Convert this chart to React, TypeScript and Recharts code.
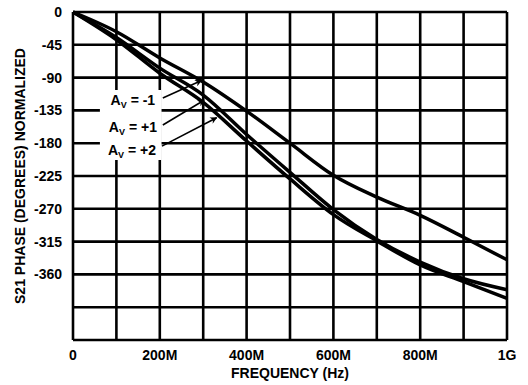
import React from 'react';
import {
  LineChart,
  Line,
  XAxis,
  YAxis,
  CartesianGrid,
  ReferenceArea,
  ReferenceLine,
  ReferenceDot,
} from 'recharts';

// frequency in MHz
const freq = [0, 100, 200, 300, 400, 500, 600, 700, 800, 900, 1000];
// S21 phase, degrees
const avMinus1 = [0, -27, -63, -96, -136, -180, -224, -254, -279, -309, -340];
const avPlus1 = [0, -35, -77, -114, -168, -220, -271, -312, -343, -366, -381];
const avPlus2 = [0, -38, -84, -124, -177, -229, -278, -314, -347, -370, -393];

const xTicks = [0, 100, 200, 300, 400, 500, 600, 700, 800, 900, 1000];
const xTickLabels: Record<number, string> = { 0: '0', 200: '200M', 400: '400M', 600: '600M', 800: '800M', 1000: '1G' };
const yTicks = [0, -45, -90, -135, -180, -225, -270, -315, -360, -405, -450];
const yTickLabels = ['0', '-45', '-90', '-135', '-180', '-225', '-270', '-315', '-360'];

// curve labels: text, text position, arrow from -> to (MHz, degrees)
const gainLabels = ['-1', '+1', '+2'];
const labelPos = [
  { f: 138, deg: -121 },
  { f: 138, deg: -158 },
  { f: 136, deg: -189 },
];
const arrows = [
  { f1: 207, d1: -118, f2: 296, d2: -94 },
  { f1: 207, d1: -155, f2: 302, d2: -121 },
  { f1: 205, d1: -184, f2: 331, d2: -145 },
];

const data = freq.map((f, i) => ({
  f,
  m1: avMinus1[i],
  p1: avPlus1[i],
  p2: avPlus2[i],
}));

const FONT = '"Liberation Sans", Arial, sans-serif';

const YTitle = (props: any) => {
  const { viewBox } = props;
  const cx = viewBox.x - 3;
  const cy = viewBox.y + viewBox.height / 2;
  return (
    <text
      x={cx}
      y={cy}
      transform={`rotate(-90, ${cx}, ${cy})`}
      textAnchor="middle"
      dominantBaseline="central"
      fontFamily={FONT}
      fontWeight="bold"
      fontSize={14}
      fill="#000"
    >
      S21 PHASE (DEGREES) NORMALIZED
    </text>
  );
};

const XTitle = (props: any) => {
  const { viewBox } = props;
  return (
    <text
      x={viewBox.x + viewBox.width / 2}
      y={viewBox.y + 38}
      textAnchor="middle"
      fontFamily={FONT}
      fontWeight="bold"
      fontSize={14}
      fill="#000"
    >
      FREQUENCY (Hz)
    </text>
  );
};

const GainLabel = (props: any) => {
  const { viewBox, gain } = props;
  const x = viewBox.x + viewBox.width / 2;
  const y = viewBox.y + viewBox.height / 2;
  return (
    <text
      x={x}
      y={y + 5}
      textAnchor="middle"
      fontFamily={FONT}
      fontWeight="bold"
      fontSize={14}
      fill="#000"
    >
      A
      <tspan fontSize={9} dy={3}>V</tspan>
      <tspan dy={-3}>{` = ${gain}`}</tspan>
    </text>
  );
};

const Arrow = (props: any) => (
  <line
    x1={props.x1}
    y1={props.y1}
    x2={props.x2}
    y2={props.y2}
    stroke="#000"
    strokeWidth={1.6}
    markerEnd="url(#arrowHead)"
  />
);

export default function App() {
  return (
    <div style={{ position: 'absolute', left: 0, top: 0, background: '#fff' }}>
      <LineChart
        width={528}
        height={385}
        data={data}
        margin={{ top: 12, right: 21, left: 23, bottom: 20 }}
      >
        <defs>
          <marker
            id="arrowHead"
            viewBox="0 0 10 10"
            refX="9"
            refY="5"
            markerWidth="8"
            markerHeight="7"
            markerUnits="userSpaceOnUse"
            orient="auto"
          >
            <path d="M0,0 L10,5 L0,10 L3,5 z" fill="#000" />
          </marker>
        </defs>
        <CartesianGrid stroke="#000" strokeWidth={2.6} />
        <XAxis
          dataKey="f"
          type="number"
          domain={[0, 1000]}
          ticks={xTicks}
          interval={0}
          axisLine={false}
          tickLine={false}
          height={25}
          tickFormatter={(v: number) => xTickLabels[v] ?? ''}
          tick={{ fill: '#000', fontSize: 14, fontWeight: 'bold', fontFamily: FONT }}
          tickMargin={4}
          label={<XTitle />}
        />
        <YAxis
          type="number"
          domain={[-450, 0]}
          ticks={yTicks}
          interval={0}
          axisLine={false}
          tickLine={false}
          width={50}
          tickFormatter={(v: number) => (yTickLabels.includes(String(v)) ? String(v) : '')}
          tick={{ fill: '#000', fontSize: 14, fontWeight: 'bold', fontFamily: FONT }}
          tickMargin={5}
          label={<YTitle />}
        />
        <ReferenceArea x1={62} x2={204} y1={-203} y2={-107} fill="#fff" fillOpacity={1} stroke="none" />
        {arrows.map((a, i) => (
          <ReferenceLine
            key={`arrow-${i}`}
            segment={[
              { x: a.f1, y: a.d1 },
              { x: a.f2, y: a.d2 },
            ]}
            shape={Arrow}
          />
        ))}
        {gainLabels.map((g, i) => (
          <ReferenceDot
            key={`lab-${i}`}
            x={labelPos[i].f}
            y={labelPos[i].deg}
            r={1}
            fill="none"
            stroke="none"
            label={<GainLabel gain={g} />}
          />
        ))}
        <Line type="monotone" dataKey="m1" stroke="#000" strokeWidth={3.5} dot={false} isAnimationActive={false} />
        <Line type="monotone" dataKey="p1" stroke="#000" strokeWidth={3.5} dot={false} isAnimationActive={false} />
        <Line type="monotone" dataKey="p2" stroke="#000" strokeWidth={3.5} dot={false} isAnimationActive={false} />
      </LineChart>
    </div>
  );
}
